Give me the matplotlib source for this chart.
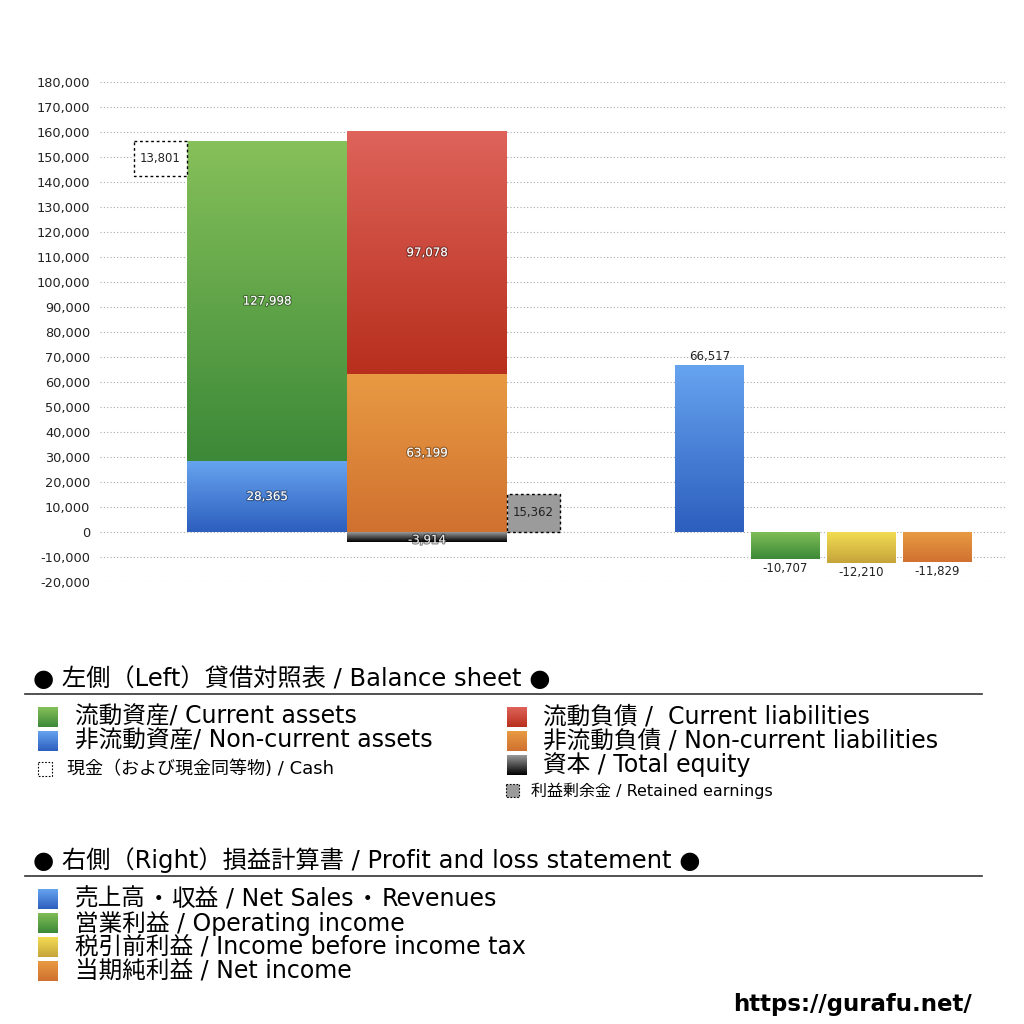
import numpy as np
import matplotlib
matplotlib.use("Agg")
import matplotlib.pyplot as plt
import matplotlib.patheffects as pe
from matplotlib.colors import to_rgb
from matplotlib.patches import Rectangle

LATIN = 'DejaVu Sans'
CJK = 'Noto Sans CJK JP'
plt.rcParams['font.family'] = [LATIN, CJK]

# 貸借対照表 (balance sheet)
current_assets = 127998
noncurrent_assets = 28365
cash = 13801
current_liab = 97078
noncurrent_liab = 63199
equity = -3914
retained = 15362

# 損益計算書 (P&L)
pl_names = ['売上高・収益', '営業利益', '税引前利益', '当期純利益']
pl_values = [66517, -10707, -12210, -11829]
pl_colors = [('#66a3ef', '#2d5fbe'), ('#7fbd56', '#3c8938'),
             ('#f2dc52', '#c5a43a'), ('#e89a42', '#d07130')]

yticks = np.arange(-20000, 180001, 10000)


def gradient(ax, x0, x1, y0, y1, top, bot, z=2):
    t = np.array(to_rgb(top))
    b = np.array(to_rgb(bot))
    f = np.linspace(0, 1, 64)[:, None]
    img = (t * (1 - f) + b * f)[:, None, :]
    ax.imshow(img, extent=(x0, x1, y0, y1), aspect='auto', origin='upper',
              zorder=z, interpolation='bilinear')


def grad_bar(ax, x, w, h, bottom, top, bot):
    r = ax.bar(x, h, w, bottom=bottom, color='none', linewidth=0)[0]
    ylo = min(r.get_y(), r.get_y() + r.get_height())
    yhi = max(r.get_y(), r.get_y() + r.get_height())
    gradient(ax, r.get_x(), r.get_x() + r.get_width(), ylo, yhi, top, bot)
    return ylo, yhi


fig = plt.figure(figsize=(10.24, 10.24), dpi=100)
ax = fig.add_axes([100 / 1024, 1 - 582 / 1024, 905 / 1024, 500 / 1024])
ax.set_facecolor('none')

white_fx = [pe.withStroke(linewidth=1.6, foreground=(0, 0, 0, 0.35))]
lbl = 8.5

# assets column
lo, hi = grad_bar(ax, 267, 160, noncurrent_assets, 0, '#66a3ef', '#2d5fbe')
ax.text(267, (lo + hi) / 2, f'{noncurrent_assets:,}', color='white', fontsize=lbl,
        ha='center', va='center', path_effects=white_fx, zorder=5)
lo, hi = grad_bar(ax, 267, 160, current_assets, noncurrent_assets, '#86c05a', '#3c8938')
ax.text(267, (lo + hi) / 2, f'{current_assets:,}', color='white', fontsize=lbl,
        ha='center', va='center', path_effects=white_fx, zorder=5)
top_assets = noncurrent_assets + current_assets
ax.bar(160.5, -cash, 53, bottom=top_assets, color='white', edgecolor='black',
       linestyle=(0, (2, 2)), linewidth=1, zorder=3)
ax.text(160.5, top_assets - cash / 2, f'{cash:,}', fontsize=lbl, ha='center',
        va='center', zorder=5, color='#222222')

# liabilities column
lo, hi = grad_bar(ax, 427, 160, noncurrent_liab, 0, '#e89a42', '#d07130')
ax.text(427, (lo + hi) / 2, f'{noncurrent_liab:,}', color='white', fontsize=lbl,
        ha='center', va='center', path_effects=white_fx, zorder=5)
lo, hi = grad_bar(ax, 427, 160, current_liab, noncurrent_liab, '#de635a', '#b82f1d')
ax.text(427, (lo + hi) / 2, f'{current_liab:,}', color='white', fontsize=lbl,
        ha='center', va='center', path_effects=white_fx, zorder=5)
lo, hi = grad_bar(ax, 427, 160, equity, 0, '#9a9a9a', '#000000')
ax.text(427, (lo + hi) / 2 - 1200, f'{equity:,}', color='#e6e6e6', fontsize=lbl,
        ha='center', va='center',
        path_effects=[pe.withStroke(linewidth=1.6, foreground=(0, 0, 0, 0.45))], zorder=5)
ax.bar(533.5, retained, 53, color='#9b9b9b', edgecolor='black',
       linestyle=(0, (2, 2)), linewidth=1, zorder=3)
ax.text(533.5, retained / 2, f'{retained:,}', fontsize=lbl, ha='center',
        va='center', zorder=5, color='#222222')

# P&L bars
pl_x = [709.5, 785.5, 861.5, 937.5]
for x, v, (ct, cb) in zip(pl_x, pl_values, pl_colors):
    lo, hi = grad_bar(ax, x, 69, v, 0, ct, cb)
    if v >= 0:
        ax.text(x, hi + 1000, f'{v:,}', fontsize=lbl, ha='center', va='bottom',
                color='#222222', zorder=5)
    else:
        ax.text(x, lo - 1200, f'{v:,}', fontsize=lbl, ha='center', va='top',
                color='#222222', zorder=5)

ax.set_xlim(100, 1005)
ax.set_ylim(-20000, 180000)
ax.set_yticks(yticks)
ax.set_yticklabels([f'{v:,}' for v in yticks], fontsize=9.3, color='#222222')
ax.tick_params(axis='y', length=0, pad=7)
ax.set_xticks([])
ax.yaxis.grid(True, linestyle=(0, (1, 2)), color='#aaaaaa', linewidth=0.8, zorder=0)
ax.set_axisbelow(True)
for s in ax.spines.values():
    s.set_visible(False)

# legend area drawn in pixel coordinates
lg = fig.add_axes([0, 0, 1, 1])
lg.patch.set_visible(False)
lg.set_xlim(0, 1024)
lg.set_ylim(1024, 0)
lg.axis('off')
renderer = fig.canvas.get_renderer()


def swatch(x, y, top, bot, size=20):
    gradient(lg, x, x + size, y + size / 2, y - size / 2, top, bot)


def runs(x, y, parts, fs):
    # draw pieces one after another; a number is an extra gap in pixels
    for p in parts:
        if isinstance(p, (int, float)):
            x += p
            continue
        s, fam = p
        t = lg.text(x, y, s, fontsize=fs, family=fam, va='center', ha='left')
        x += t.get_window_extent(renderer=renderer).width


lg.text(33, 679, '● 左側（Left）貸借対照表 / Balance sheet ●', fontsize=17.5,
        va='center', ha='left')
lg.plot([25, 982], [694, 694], color='#333333', linewidth=1.2)

left_items = [('流動資産/ Current assets', '#86c05a', '#3c8938'),
              ('非流動資産/ Non-current assets', '#66a3ef', '#2d5fbe')]
for i, (t, ct, cb) in enumerate(left_items):
    y = 717 + 24 * i
    swatch(38, y, ct, cb)
    lg.text(75, y, t, fontsize=17, va='center', ha='left')
lg.add_patch(Rectangle((38, 762), 14, 14, facecolor='white', edgecolor='black',
                       linestyle=(0, (1.5, 1.5)), linewidth=0.8))
lg.text(67, 769, '現金（および現金同等物) / Cash', fontsize=13, va='center', ha='left')

right_items = [('流動負債 /  Current liabilities', '#de635a', '#b82f1d'),
               ('非流動負債 / Non-current liabilities', '#e89a42', '#d07130'),
               ('資本 / Total equity', '#9a9a9a', '#000000')]
for i, (t, ct, cb) in enumerate(right_items):
    y = 717 + 24 * i
    swatch(507, y, ct, cb)
    lg.text(543, y, t, fontsize=17, va='center', ha='left')
lg.add_patch(Rectangle((506, 784), 13, 13, facecolor='#9b9b9b', edgecolor='black',
                       linestyle=(0, (1.5, 1.5)), linewidth=0.8))
lg.text(531, 791, '利益剰余金 / Retained earnings', fontsize=11.5, va='center', ha='left')

lg.text(33, 860, '● 右側（Right）損益計算書 / Profit and loss statement ●', fontsize=17.5,
        va='center', ha='left')
lg.plot([25, 982], [876, 876], color='#333333', linewidth=1.2)

pl_labels = ['売上高・収益 / Net Sales・Revenues', '営業利益 / Operating income',
             '税引前利益 / Income before income tax', '当期純利益 / Net income']
for i, (t, (ct, cb)) in enumerate(zip(pl_labels, pl_colors)):
    y = 899 + 24 * i
    swatch(38, y, ct, cb)
    if '・' in t:
        jp, en = t.split(' / ')
        a, b = jp.split('・')
        c, d = en.split('・')
        runs(75, y, [(a, CJK), 1, ('・', CJK), 1, (b, CJK), 7.5, ('/ ' + c, LATIN),
                     2, ('・', CJK), 2, (d, LATIN)], 17)
    else:
        lg.text(75, y, t, fontsize=17, va='center', ha='left')

lg.text(972, 1004, 'https://gurafu.net/', fontsize=16.5, fontweight='bold',
        va='center', ha='right')

fig.savefig('out.png', dpi=100, facecolor='white')
